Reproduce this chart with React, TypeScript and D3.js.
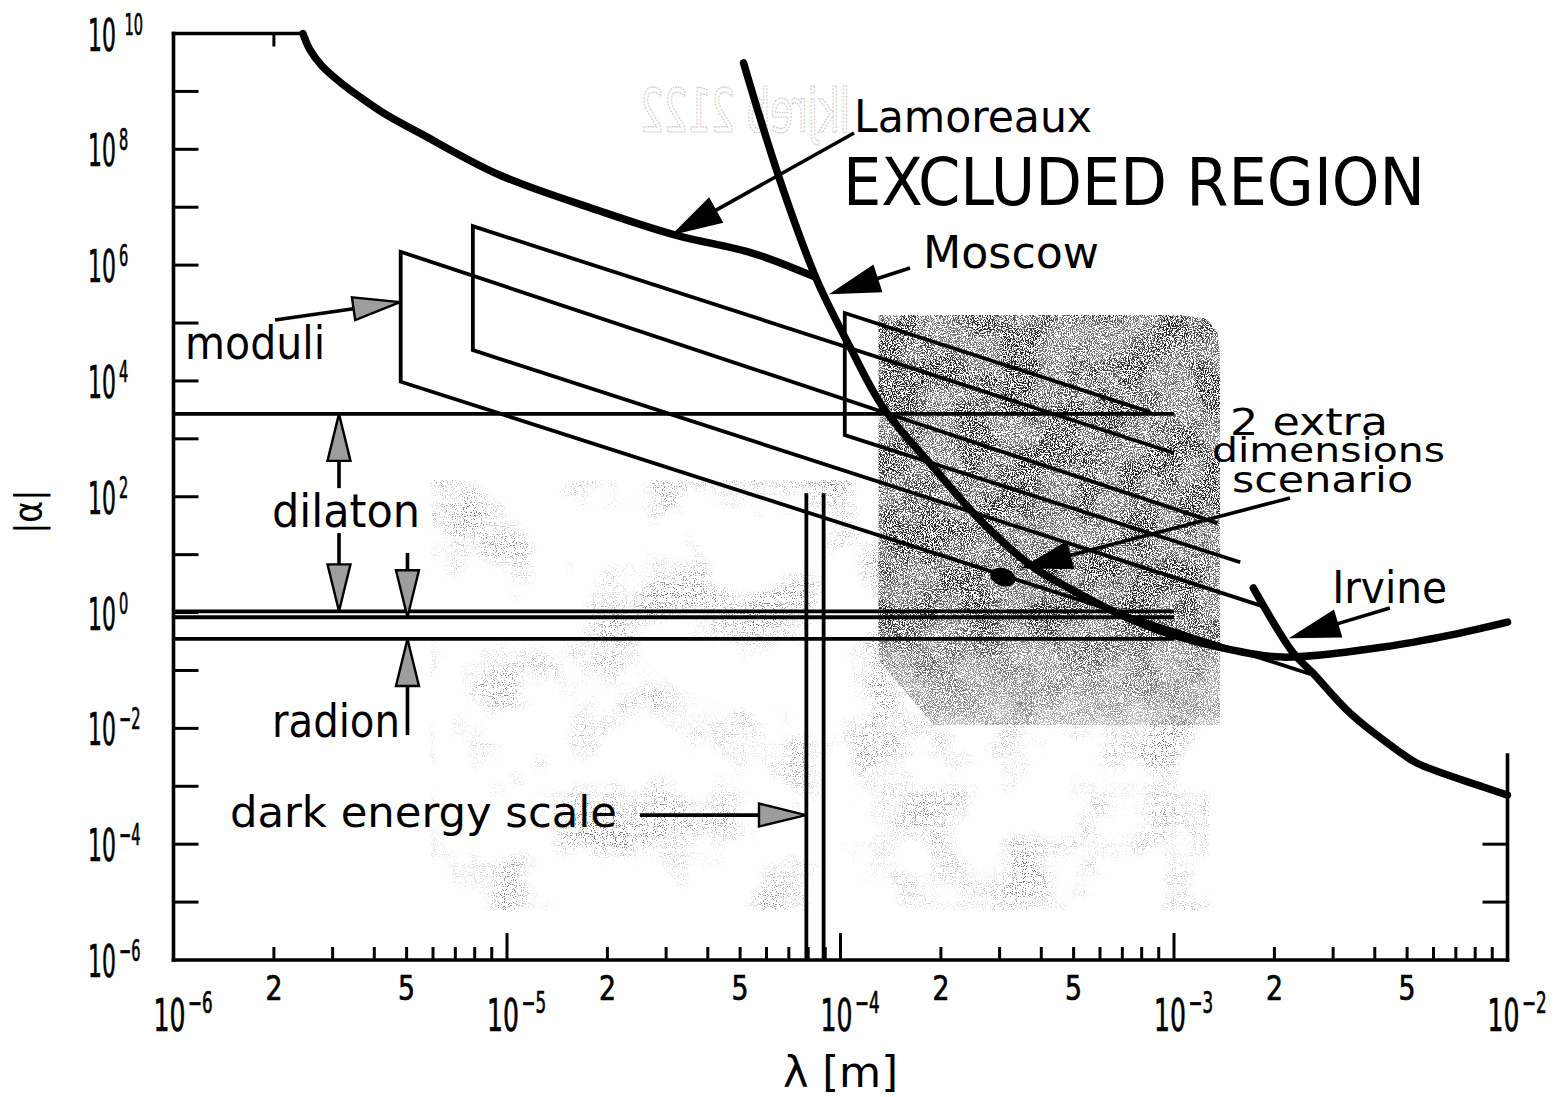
import React from 'react';
import * as d3 from 'd3';

// ---- axes -------------------------------------------------------------
const lambdaDomain: [number, number] = [1e-6, 1e-2];
const alphaDomain: [number, number] = [1e-6, 1e10];

const alphaTickExps = [-5, -4, -3, -2, -1, 0, 1, 2, 3, 4, 5, 6, 7, 8, 9];
const alphaLabelExps = [-6, -4, -2, 0, 2, 4, 6, 8, 10];
const lambdaDecadeExps = [-6, -5, -4, -3, -2];
const lambdaMinorMults = [2, 3, 4, 5, 6, 7, 8, 9];
const lambdaMinorLabels = [2, 5];

// ---- experimental limits (lambda [m], |alpha|) ------------------------
const lamoreauxCurve: [number, number][] = [
  [2.445e-6, 1e10], [2.566e-6, 5.19e9], [2.788e-6, 2.75e9], [3.157e-6, 1.45e9],
  [3.624e-6, 8.0e8], [4.31e-6, 4.07e8], [5.48e-6, 1.9e8], [9.5e-6, 3.6e7],
  [1.9e-5, 8.6e6], [3.2e-5, 3.3e6], [5.47e-5, 1.6e6], [8.4e-5, 6.2e5],
];

const moscowCurve: [number, number][] = [
  [5.12e-5, 3.1e9], [6.58e-5, 2.95e7], [8.5e-5, 5.5e5], [1.068e-4, 3.85e4],
  [1.34e-4, 3.54e3], [1.894e-4, 326], [2.675e-4, 35.2], [3.78e-4, 6.1],
  [4.78e-4, 2.75], [6.75e-4, 0.98], [9.53e-4, 0.44], [1.5e-3, 0.225],
  [2.12e-3, 0.17], [4.24e-3, 0.254], [6.73e-3, 0.408], [1e-2, 0.685],
];

const irvineCurve: [number, number][] = [
  [1.73e-3, 2.65], [2.28e-3, 0.2], [2.61e-3, 0.09], [3.37e-3, 0.0184],
  [4.67e-3, 4.2e-3], [5.36e-3, 2.5e-3], [8.46e-3, 9.7e-4], [1e-2, 7.05e-4],
];

// ---- theory bands ------------------------------------------------------
// each moduli band: vertical left edge, then two parallel falling edges
const moduliBands = [
  { left: 4.8e-6, top: 1.7e6, bottom: 9.7e3, topEnd: [1.35e-3, 35], bottomEnd: [2.56e-3, 0.087] },
  { left: 7.9e-6, top: 4.7e6, bottom: 3.4e4, topEnd: [1.0e-3, 570], bottomEnd: [1.88e-3, 1.24] },
  { left: 1.03e-4, top: 1.49e5, bottom: 1160, topEnd: [8.47e-4, 2900], bottomEnd: [1.58e-3, 7.4] },
];

const dilatonLimits = [2.7e3, 1.05];
const radionLimits = [0.83, 0.35];
const bandLineEnd = 1e-3;

const darkEnergyLambda = [7.9e-5, 8.9e-5];
const darkEnergyTopAlpha = 115;

const twoExtraDimPoint: [number, number] = [3.07e-4, 4.1];

// stippled area behind the short-range window
const shadedOutline: [number, number][] = [
  [1.3e-4, 1.37e5], [1.04e-3, 1.37e5], [1.25e-3, 1.2e5], [1.35e-3, 7e4],
  [1.374e-3, 2.8e4], [1.374e-3, 0.0114], [1.9e-4, 0.0114], [1.3e-4, 0.15],
];
const speckleOutline: [number, number][] = [
  [5.9e-6, 194], [1.28e-3, 194], [1.28e-3, 7.3e-6], [5.9e-6, 7.3e-6],
];

// ---- annotations --------------------------------------------------------
const pointerArrows = [
  { from: [1.098e-4, 1.91e8], to: [3.19e-5, 3.58e6], kind: 'solid' },
  { from: [1.616e-4, 8.9e5], to: [9.5e-5, 3.3e5], kind: 'solid' },
  { from: [2.227e-3, 95], to: [3.575e-4, 6.1], kind: 'solid' },
  { from: [4.44e-3, 1.2], to: [2.274e-3, 0.377], kind: 'solid' },
  { from: [2.015e-6, 1.13e5], to: [4.78e-6, 2.3e5], kind: 'grey' },
  { from: [2.505e-5, 3.18e-4], to: [7.88e-5, 3.18e-4], kind: 'grey' },
  { from: [3.135e-6, 141], to: [3.135e-6, 2.7e3], kind: 'grey' },
  { from: [3.135e-6, 23.6], to: [3.135e-6, 1.05], kind: 'grey' },
  { from: [5.03e-6, 10.7], to: [5.03e-6, 0.83], kind: 'grey' },
  { from: [5.03e-6, 7.66e-3], to: [5.03e-6, 0.35], kind: 'grey' },
];

const annotations = [
  { text: 'Lamoreaux', at: [1.098e-4, 1.99e8] },
  { text: 'EXCLUDED REGION', at: [1.017e-4, 1.09e7] },
  { text: 'Moscow', at: [1.768e-4, 8.9e5] },
  { text: 'moduli', at: [1.083e-6, 2.39e4] },
  { text: 'dilaton', at: [1.974e-6, 30] },
  { text: 'radion', at: [1.974e-6, 7.08e-3] },
  { text: 'dark energy scale', at: [1.477e-6, 1.97e-4] },
  { text: 'Irvine', at: [2.98e-3, 1.46] },
];

// three-line caption, one text block
const scenarioLines = [
  { text: '2 extra', at: [1.473e-3, 1164] },
  { text: 'dimensions', at: [1.3e-3, 397] },
  { text: 'scenario', at: [1.493e-3, 120.6] },
];

const ghostText = { text: 'lkjreb 2122', at: [2.505e-5, 1.99e8] };

// ---- styling ------------------------------------------------------------
const FONT = "'DejaVu Sans Condensed', 'DejaVu Sans', sans-serif";
const labelStyle: Record<string, { size: number; width: number }> = {
  'Lamoreaux': { size: 44, width: 238 },
  'EXCLUDED REGION': { size: 66, width: 582 },
  'Moscow': { size: 45, width: 176 },
  'moduli': { size: 47, width: 140 },
  'dilaton': { size: 47, width: 148 },
  'radion': { size: 46, width: 128 },
  'dark energy scale': { size: 42, width: 387 },
  '2 extra': { size: 38, width: 158 },
  'dimensions': { size: 34, width: 233 },
  'scenario': { size: 36, width: 181 },
  'Irvine': { size: 44, width: 115 },
};
const headStyle: Record<string, { len: number; wid: number; fill: string }> = {
  solid: { len: 46, wid: 26, fill: '#000' },
  grey: { len: 47, wid: 23, fill: '#9d9d9d' },
};

function arrowParts(x1: number, y1: number, x2: number, y2: number, len: number, wid: number) {
  const dx = x2 - x1, dy = y2 - y1;
  const L = Math.hypot(dx, dy);
  const ux = dx / L, uy = dy / L;
  const bx = x2 - ux * len, by = y2 - uy * len;
  const px = -uy * wid / 2, py = ux * wid / 2;
  return {
    shaft: `M${x1},${y1}L${bx},${by}`,
    head: `M${x2},${y2}L${bx + px},${by + py}L${bx - px},${by - py}Z`,
  };
}

const expText = (e: number) => (e < 0 ? '\u2212' + String(-e) : String(e));

export default function App() {
  const x = d3.scaleLog().domain(lambdaDomain).range([173.5, 1507.5]);
  const y = d3.scaleLog().domain(alphaDomain).range([960, 33.5]);
  const x0 = x(lambdaDomain[0]);
  const x1 = x(lambdaDomain[1]);
  const yB = y(alphaDomain[0]);
  const yT = y(alphaDomain[1]);

  const smooth = d3.line<number[]>().x(d => x(d[0])).y(d => y(d[1])).curve(d3.curveCatmullRom.alpha(0.5));
  const straight = d3.line<number[]>().x(d => x(d[0])).y(d => y(d[1]));
  const closed = d3.line<number[]>().x(d => x(d[0])).y(d => y(d[1])).curve(d3.curveLinearClosed);

  const lineW = 3.8;
  const axisW = 3.6;
  const curveW = 7.5;

  const dotAngle = (Math.atan2(
    y(moduliBands[0].bottomEnd[1]) - y(moduliBands[0].bottom),
    x(moduliBands[0].bottomEnd[0]) - x(moduliBands[0].left)) * 180) / Math.PI;

  const shadeTop = y(shadedOutline[0][1]);
  const shadeBottom = y(shadedOutline[5][1]);
  const ghostWidth = 210;

  return (
    <svg width={1557} height={1097} style={{ position: 'absolute', left: 0, top: 0, background: '#fff' }}
      fontFamily={FONT}>
      <defs>
        <filter id="grainDense" x="0" y="0" width="100%" height="100%" colorInterpolationFilters="sRGB">
          <feTurbulence type="fractalNoise" baseFrequency="0.95" numOctaves={2} seed={4} result="hi" />
          <feColorMatrix in="hi" type="matrix"
            values="0 0 0 0 0  0 0 0 0 0  0 0 0 0 0  16 0 0 0 -7.6" result="dots" />
          <feTurbulence type="fractalNoise" baseFrequency="0.025" numOctaves={2} seed={9} result="lo" />
          <feColorMatrix in="lo" type="matrix"
            values="0 0 0 0 0  0 0 0 0 0  0 0 0 0 0  5 0 0 0 -2.0" result="patch" />
          <feComposite in="dots" in2="patch" operator="arithmetic" k1={0.35} k2={0.65} k3={0} k4={0} result="mask" />
          <feComposite in="SourceGraphic" in2="mask" operator="in" />
        </filter>
        <filter id="grainSparse" x="0" y="0" width="100%" height="100%" colorInterpolationFilters="sRGB">
          <feTurbulence type="fractalNoise" baseFrequency="0.9" numOctaves={1} seed={11} result="hi" />
          <feColorMatrix in="hi" type="matrix"
            values="0 0 0 0 0  0 0 0 0 0  0 0 0 0 0  14 0 0 0 -8.1" result="dots" />
          <feTurbulence type="fractalNoise" baseFrequency="0.014" numOctaves={3} seed={5} result="lo" />
          <feColorMatrix in="lo" type="matrix"
            values="0 0 0 0 0  0 0 0 0 0  0 0 0 0 0  3 0 0 0 -1.4" result="patch" />
          <feComposite in="dots" in2="patch" operator="arithmetic" k1={1} k2={0} k3={0} k4={0} result="mask" />
          <feComposite in="SourceGraphic" in2="mask" operator="in" />
        </filter>
        <linearGradient id="shadeFade" gradientUnits="userSpaceOnUse" x1={0} x2={0} y1={shadeTop} y2={shadeBottom}>
          <stop offset="0" stopColor="#fff" />
          <stop offset="0.72" stopColor="#fff" />
          <stop offset="1" stopColor="#6a6a6a" />
        </linearGradient>
        <mask id="shadeMask" maskUnits="userSpaceOnUse" x={0} y={0} width={1557} height={1097}>
          <rect x={0} y={0} width={1557} height={1097} fill="url(#shadeFade)" />
        </mask>
      </defs>
      <rect width={1557} height={1097} fill="#fff" />

      {/* stippled shading */}
      <path d={closed(speckleOutline) || ''} fill="#7a7a7a" filter="url(#grainSparse)" />
      <g mask="url(#shadeMask)">
        <path d={closed(shadedOutline) || ''} fill="#2a2a2a" filter="url(#grainDense)" />
      </g>

      {/* faint mirrored show-through lettering */}
      <text transform={`translate(${x(ghostText.at[0]) + ghostWidth},${y(ghostText.at[1])}) scale(-1,1)`}
        fontSize={60} textLength={ghostWidth} lengthAdjust="spacingAndGlyphs"
        fill="none" stroke="#c2c2c2" strokeWidth={1.2} strokeDasharray="2 1.6">{ghostText.text}</text>

      {/* axes frame */}
      <g stroke="#000" strokeWidth={axisW} fill="none" strokeLinecap="square">
        <line x1={x0} y1={yT} x2={x0} y2={yB} />
        <line x1={x0} y1={yB} x2={x1} y2={yB} />
        <line x1={x0} y1={yT} x2={x(lamoreauxCurve[0][0])} y2={yT} />
        <line x1={x1} y1={y(3.46e-3)} x2={x1} y2={yB} />
      </g>
      <g stroke="#000" strokeWidth={3} fill="none">
        {alphaTickExps.map(e => (
          <line key={'yt' + e} x1={x0} x2={x0 + 25} y1={y(Math.pow(10, e))} y2={y(Math.pow(10, e))} />
        ))}
        {[-5, -4].map(e => (
          <line key={'yr' + e} x1={x1} x2={x1 - 25} y1={y(Math.pow(10, e))} y2={y(Math.pow(10, e))} />
        ))}
        <line x1={x(2e-6)} x2={x(2e-6)} y1={yT} y2={yT + 13} />
        {lambdaDecadeExps.slice(1, -1).map(e => (
          <line key={'xM' + e} x1={x(Math.pow(10, e))} x2={x(Math.pow(10, e))} y1={yB} y2={yB - 27} />
        ))}
        {lambdaDecadeExps.slice(0, -1).flatMap(e =>
          lambdaMinorMults.map(m => (
            <line key={'xm' + e + m} x1={x(m * Math.pow(10, e))} x2={x(m * Math.pow(10, e))} y1={yB} y2={yB - 13} />
          )))}
      </g>

      {/* y tick labels: 10 with superscript exponent, condensed */}
      <g fill="#000" stroke="#000" strokeWidth={0.7}>
        {alphaLabelExps.map(e => {
          const ty = y(Math.pow(10, e));
          return (
            <text key={'yl' + e} transform={`translate(${x0 - 85.5},${ty + 17}) scale(0.54,1)`} fontSize={45}>
              10<tspan fontSize={30} dx={e === 10 ? 16 : 6} dy={-16}>{expText(e)}</tspan>
            </text>
          );
        })}
      </g>

      {/* x tick labels */}
      <g fill="#000" stroke="#000" strokeWidth={0.7}>
        {lambdaDecadeExps.map(e => {
          const tx = x(Math.pow(10, e));
          return (
            <text key={'xl' + e} transform={`translate(${tx - 20},${yB + 71}) scale(0.62,1)`} fontSize={45}>
              10<tspan fontSize={30} dx={4} dy={-18}>{expText(e)}</tspan>
            </text>
          );
        })}
        {lambdaDecadeExps.slice(0, -1).flatMap(e =>
          lambdaMinorLabels.map(m => (
            <text key={'xn' + e + m} x={x(m * Math.pow(10, e))} y={yB + 40} textAnchor="middle"
              fontSize={34} textLength={17} lengthAdjust="spacingAndGlyphs">{String(m)}</text>
          )))}
      </g>

      {/* axis titles */}
      <text transform={`translate(41,${(yT + yB) / 2 + 15}) rotate(-90)`} textAnchor="middle"
        fontSize={38} textLength={44} lengthAdjust="spacingAndGlyphs">|α|</text>
      <text x={(x(5e-5) + x(2e-4)) / 2} y={1087} textAnchor="middle" fontSize={42}
        textLength={115} lengthAdjust="spacingAndGlyphs">λ [m]</text>

      {/* dilaton / radion bounds, dark energy scale, moduli bands */}
      <g stroke="#000" strokeWidth={lineW} fill="none">
        {[...dilatonLimits, ...radionLimits].map((a, i) => (
          <path key={'h' + i} d={straight([[lambdaDomain[0], a], [bandLineEnd, a]]) || ''} />
        ))}
        {darkEnergyLambda.map((l, i) => (
          <path key={'de' + i} d={straight([[l, alphaDomain[0]], [l, darkEnergyTopAlpha]]) || ''} />
        ))}
        {moduliBands.map((b, i) => (
          <path key={'mb' + i} strokeLinejoin="miter"
            d={straight([b.topEnd, [b.left, b.top], [b.left, b.bottom], b.bottomEnd]) || ''} />
        ))}
      </g>

      <ellipse cx={x(twoExtraDimPoint[0])} cy={y(twoExtraDimPoint[1])} rx={13} ry={9}
        transform={`rotate(${dotAngle},${x(twoExtraDimPoint[0])},${y(twoExtraDimPoint[1])})`} fill="#000" />

      {/* measured limits */}
      <g stroke="#000" strokeWidth={curveW} fill="none" strokeLinecap="round" strokeLinejoin="round">
        <path d={smooth(lamoreauxCurve) || ''} />
        <path d={smooth(moscowCurve) || ''} />
        <path d={smooth(irvineCurve) || ''} />
      </g>

      {/* pointers */}
      {pointerArrows.map((a, i) => {
        const hs = headStyle[a.kind];
        const p = arrowParts(x(a.from[0]), y(a.from[1]), x(a.to[0]), y(a.to[1]), hs.len, hs.wid);
        return (
          <g key={'ar' + i}>
            <path d={p.shaft} stroke="#000" strokeWidth={3.6} fill="none" />
            <path d={p.head} fill={hs.fill} stroke="#000" strokeWidth={2.4} strokeLinejoin="miter" />
          </g>
        );
      })}

      {/* labels */}
      <g fill="#000">
        {annotations.map(a => {
          const s = labelStyle[a.text];
          return (
            <text key={a.text} x={x(a.at[0])} y={y(a.at[1])} fontSize={s.size}
              textLength={s.width} lengthAdjust="spacingAndGlyphs">{a.text}</text>
          );
        })}
        <text>
          {scenarioLines.map(l => {
            const s = labelStyle[l.text];
            return (
              <tspan key={l.text} x={x(l.at[0])} y={y(l.at[1])} fontSize={s.size}
                textLength={s.width} lengthAdjust="spacingAndGlyphs">{l.text}</tspan>
            );
          })}
        </text>
      </g>
    </svg>
  );
}
